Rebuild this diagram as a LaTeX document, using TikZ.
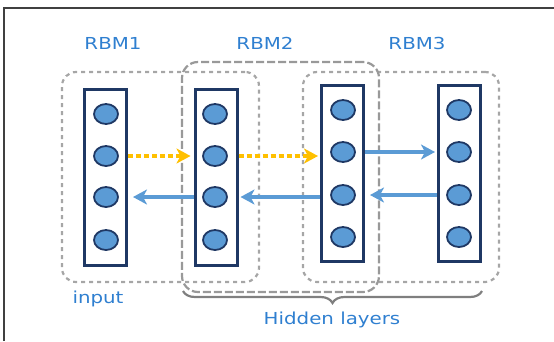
\documentclass[tikz,border=0pt]{standalone}
\usepackage{fontspec}
\setmainfont{DejaVu Sans}
\usepackage{tikz}
\usetikzlibrary{positioning}
\usetikzlibrary{shapes,arrows.meta,decorations.pathreplacing}

\definecolor{navy}{HTML}{1F3864}
\definecolor{unitblue}{HTML}{5B9BD5}
\definecolor{labelblue}{HTML}{2F7FD0}
\definecolor{fwdyellow}{HTML}{FFC000}
\definecolor{boxgray}{HTML}{A6A6A6}
\definecolor{bracegray}{HTML}{7F7F7F}
\definecolor{framegray}{HTML}{404040}

\tikzset{
  layer/.style={draw=navy, line width=3pt, minimum width=42pt, minimum height=176pt, inner sep=0pt},
  unit/.style={ellipse, draw=navy, fill=unitblue, line width=1.8pt, minimum width=24pt, minimum height=20pt, inner sep=0pt},
  rbmbox/.style={draw=boxgray, line width=2.2pt, rounded corners=14pt, dash pattern=on 4pt off 4pt, inner sep=0pt},
  midbox/.style={draw=boxgray!92!black, line width=2.2pt, rounded corners=16pt, dash pattern=on 8pt off 3pt, inner sep=0pt},
  fwd/.style={draw=fwdyellow, line width=3.5pt, dash pattern=on 5pt off 3pt, -{Stealth[length=14pt,width=15pt,inset=4pt]}},
  back/.style={draw=unitblue, line width=3.5pt, -{Stealth[length=14pt,width=15pt,inset=4pt]}},
  lbl/.style={text=labelblue, font=\fontsize{16.5}{18}\selectfont, xscale=1.2, transform shape}
}

\begin{document}
\begin{tikzpicture}[x=1pt,y=-1pt]
  \useasboundingbox (0,0) rectangle (554,341);
  % Frame
  \draw[framegray, line width=2pt] (4,341) -- (4,8) -- (554,8);

  % RBM groups
  \node[rbmbox, minimum width=197pt, minimum height=210pt] (rbm1) at (160.5,177) {};
  \node[rbmbox, minimum width=196pt, minimum height=210pt] (rbm3) at (401,177) {};
  \node[midbox, minimum width=197pt, minimum height=230pt] (rbm2) at (280.5,177) {};

  % Layers
  \node[layer] (l1) at (105.5,177.5) {};
  \node[layer] (l2) at (216,177.5) {};
  \node[layer] (l3) at (342.5,173) {};
  \node[layer] (l4) at (459.5,173) {};

  % Units
  \node[unit] (u11) at (106,114) {};
  \node[unit] (u12) at (106,156) {};
  \node[unit] (u13) at (106,197) {};
  \node[unit] (u14) at (106,240) {};
  \node[unit] (u21) at (215,114) {};
  \node[unit] (u22) at (215,156) {};
  \node[unit] (u23) at (215,197) {};
  \node[unit] (u24) at (215,240) {};
  \node[unit] (u31) at (343,110) {};
  \node[unit] (u32) at (343,152) {};
  \node[unit] (u33) at (343,195) {};
  \node[unit] (u34) at (343,237) {};
  \node[unit] (u41) at (459,110) {};
  \node[unit] (u42) at (459,152) {};
  \node[unit] (u43) at (459,195) {};
  \node[unit] (u44) at (459,237) {};

  % Arrows
  \draw[fwd, shorten >=3pt] (l1.east |- u12) -- (l2.west |- u12);
  \draw[fwd, shorten >=2pt] (l2.east |- u22) -- (l3.west |- u22);
  \draw[back, shorten >=2pt] (l3.east |- u32) -- (l4.west |- u32);
  \draw[back, shorten >=5pt] (l2.west |- u23) -- (l1.east |- u23);
  \draw[back, shorten >=2pt] (l3.west |- u23) -- (l2.east |- u23);
  \draw[back, shorten >=5pt] (l4.west |- u43) -- (l3.east |- u43);

  % Brace
  \draw[bracegray, line width=2.2pt, decorate, decoration={brace, mirror, amplitude=12pt}] (183,291) -- (482,291);

  % Labels
  \node[lbl] (t1) at (113,43) {RBM1};
  \node[lbl] (t2) at (265,43) {RBM2};
  \node[lbl] (t3) at (417,43) {RBM3};
  \node[lbl] (tin) at (98,299) {input};
  \node[lbl] (thid) at (332,320) {Hidden layers};
\end{tikzpicture}
\end{document}
